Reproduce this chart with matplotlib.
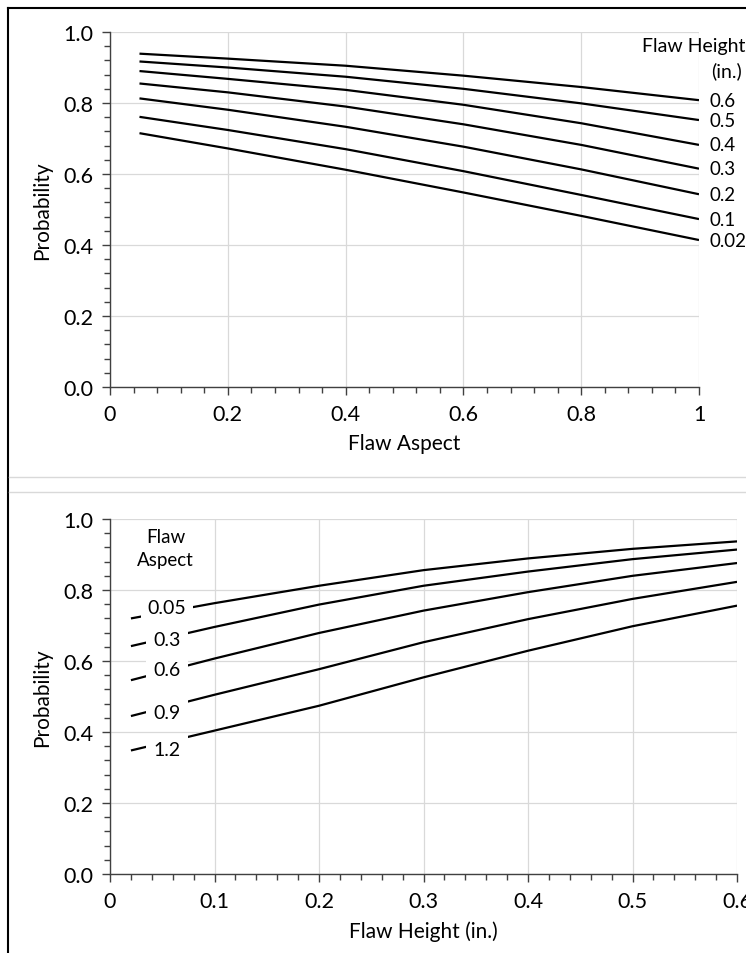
import numpy as np
import matplotlib
matplotlib.use("Agg")
import matplotlib.pyplot as plt
from matplotlib.ticker import MultipleLocator, FuncFormatter
from matplotlib.lines import Line2D

plt.rcParams['font.family'] = ['Lato', 'DejaVu Sans']

# top chart: probability vs flaw aspect, one curve per flaw height
aspect_x = [0.05, 0.2, 0.4, 0.6, 0.8, 1.0]
height_labels = ['0.6', '0.5', '0.4', '0.3', '0.2', '0.1', '0.02']
p_h060 = [0.939, 0.925, 0.905, 0.877, 0.845, 0.808]
p_h050 = [0.917, 0.900, 0.874, 0.840, 0.799, 0.752]
p_h040 = [0.890, 0.868, 0.837, 0.795, 0.743, 0.682]
p_h030 = [0.855, 0.830, 0.790, 0.740, 0.682, 0.615]
p_h020 = [0.813, 0.781, 0.733, 0.677, 0.613, 0.543]
p_h010 = [0.761, 0.724, 0.670, 0.608, 0.541, 0.473]
p_h002 = [0.715, 0.672, 0.612, 0.548, 0.482, 0.414]

# bottom chart: probability vs flaw height, one curve per flaw aspect
height_x = [0.02, 0.1, 0.2, 0.3, 0.4, 0.5, 0.6]
aspect_labels = ['0.05', '0.3', '0.6', '0.9', '1.2']
p_a005 = [0.720, 0.763, 0.812, 0.856, 0.889, 0.916, 0.937]
p_a030 = [0.642, 0.696, 0.759, 0.812, 0.852, 0.887, 0.914]
p_a060 = [0.546, 0.607, 0.679, 0.742, 0.794, 0.840, 0.876]
p_a090 = [0.445, 0.505, 0.577, 0.653, 0.718, 0.775, 0.823]
p_a120 = [0.348, 0.404, 0.474, 0.554, 0.629, 0.698, 0.756]

top_series = [p_h060, p_h050, p_h040, p_h030, p_h020, p_h010, p_h002]
bot_series = [p_a005, p_a030, p_a060, p_a090, p_a120]
bot_label_y = [0.752, 0.662, 0.575, 0.454, 0.350]

fig = plt.figure(figsize=(7.46, 9.54), dpi=100)
ax1 = fig.add_axes([0.1475, 0.5933, 0.7895, 0.3721])
ax2 = fig.add_axes([0.1475, 0.0828, 0.8405, 0.3721])

axis_col = '#404040'
grid_col = '#d9d9d9'


def style(ax, xmax, xmajor, xminor, xfmt):
    ax.set_xlim(0, xmax)
    ax.set_ylim(0, 1.0)
    ax.xaxis.set_major_locator(MultipleLocator(xmajor))
    ax.xaxis.set_minor_locator(MultipleLocator(xminor))
    ax.yaxis.set_major_locator(MultipleLocator(0.2))
    ax.yaxis.set_minor_locator(MultipleLocator(0.04))
    ax.xaxis.set_major_formatter(FuncFormatter(xfmt))
    ax.yaxis.set_major_formatter(FuncFormatter(lambda v, p: '%.1f' % v))
    ax.grid(True, which='major', color=grid_col, lw=0.9)
    ax.set_axisbelow(True)
    for s in ['top', 'right']:
        ax.spines[s].set_visible(False)
    for s in ['left', 'bottom']:
        ax.spines[s].set_color(axis_col)
        ax.spines[s].set_linewidth(1.0)
    ax.tick_params(which='major', direction='out', length=6, width=1.0,
                   color=axis_col, labelsize=15.5, pad=6)
    ax.tick_params(which='minor', direction='out', length=4, width=1.0,
                   color=axis_col)
    ax.set_ylabel('Probability', fontsize=15, labelpad=8)


def fmt_top(v, p):
    if abs(v) < 1e-9:
        return '0'
    if abs(v - 1) < 1e-9:
        return '1'
    return '%.1f' % v


def fmt_bot(v, p):
    if abs(v) < 1e-9:
        return '0'
    return '%.1f' % v


style(ax1, 1.0, 0.2, 0.04, fmt_top)
style(ax2, 0.6, 0.1, 0.02, fmt_bot)
ax1.set_xlabel('Flaw Aspect', fontsize=15, labelpad=7)
ax2.set_xlabel('Flaw Height (in.)', fontsize=15, labelpad=7)

for ys, lab in zip(top_series, height_labels):
    ax1.plot(aspect_x, ys, color='black', lw=1.6, solid_capstyle='butt')
    ax1.text(1.018, ys[-1], lab, fontsize=13.5, ha='left', va='center',
             clip_on=False)
ax1.text(1.078, 0.962, 'Flaw Height', fontsize=14, ha='right', va='center',
         clip_on=False)
ax1.text(1.073, 0.893, '(in.)', fontsize=14, ha='right', va='center',
         clip_on=False)

for ys, lab, ly in zip(bot_series, aspect_labels, bot_label_y):
    ax2.plot(height_x, ys, color='black', lw=1.6, solid_capstyle='butt')
    ax2.text(0.0545, ly, lab, fontsize=14, ha='center', va='center',
             bbox=dict(facecolor='white', edgecolor='none', pad=5),
             zorder=5)
ax2.text(0.053, 0.918, 'Flaw\nAspect', fontsize=13.5, ha='center',
         va='center', linespacing=1.45)

# chart borders
fig.add_artist(Line2D([8 / 746, 8 / 746], [0, 1 - 9 / 954],
                      transform=fig.transFigure, color='black', lw=1.5))
fig.add_artist(Line2D([8 / 746, 1], [1 - 9 / 954, 1 - 9 / 954],
                      transform=fig.transFigure, color='black', lw=1.5))
for yy in [478, 493]:
    fig.add_artist(Line2D([9 / 746, 1], [1 - yy / 954, 1 - yy / 954],
                          transform=fig.transFigure, color=grid_col, lw=1.0))

fig.savefig('out.png', dpi=100, facecolor='white')
